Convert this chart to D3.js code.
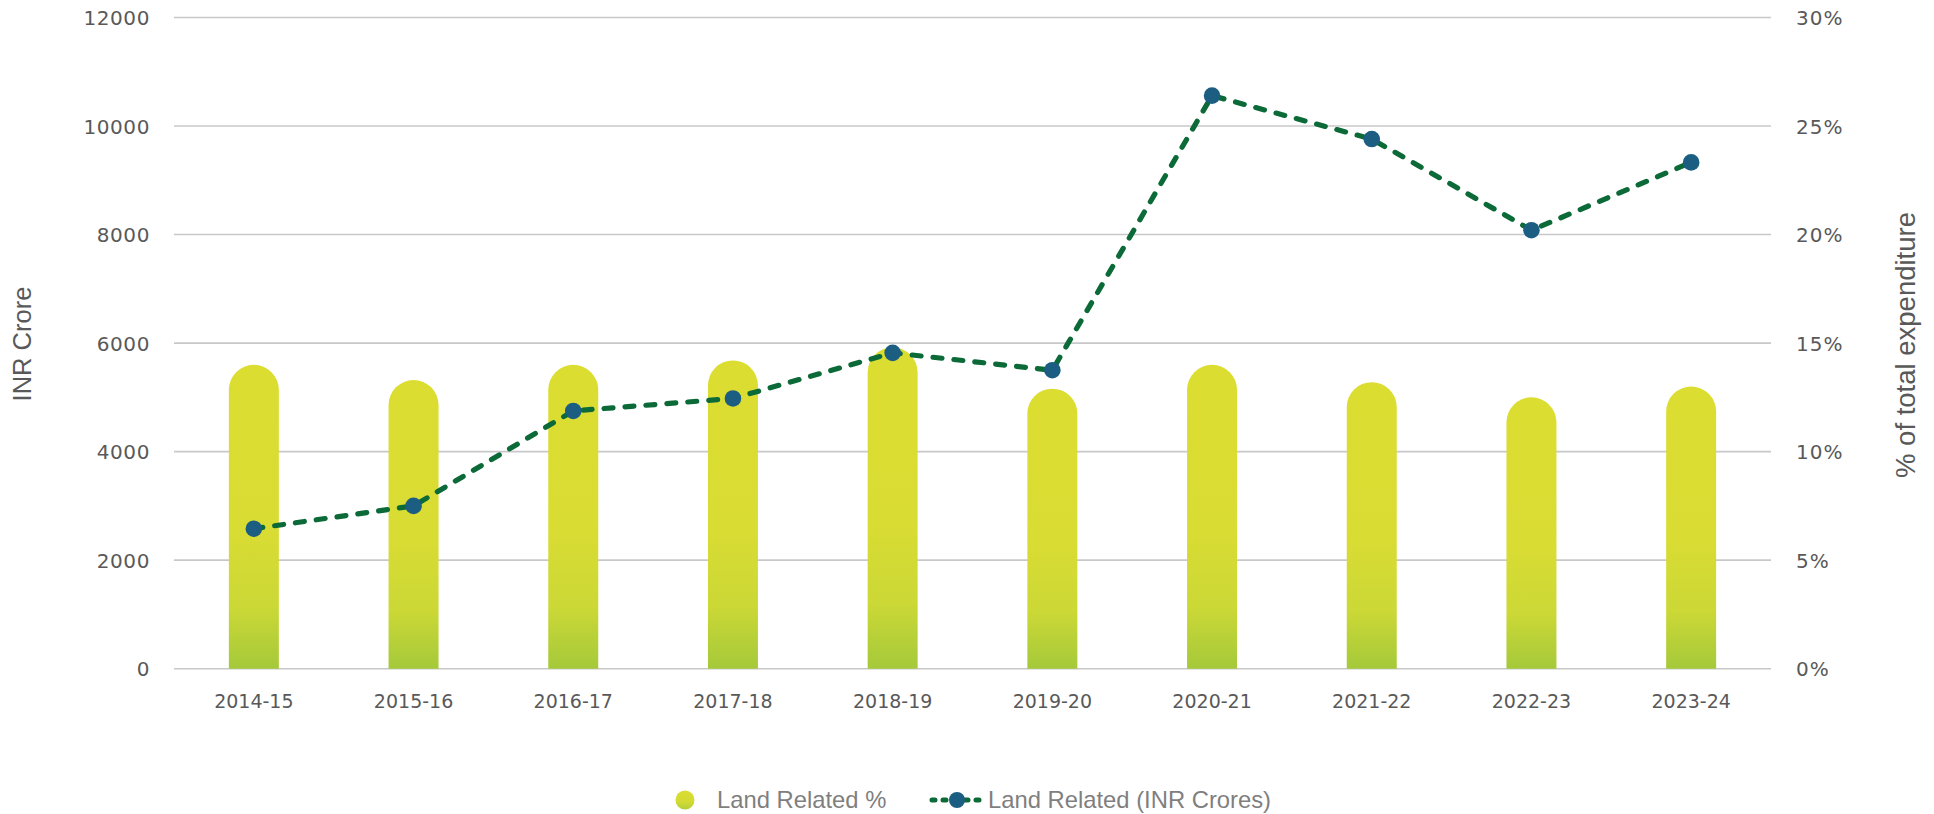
<!DOCTYPE html>
<html>
<head>
<meta charset="utf-8">
<script src="https://cdn.jsdelivr.net/npm/d3@7"></script>
<style>
  html, body { margin: 0; padding: 0; background: #fff; }
  svg { display: block; }
</style>
</head>
<body>
<svg id="chart" width="1934" height="814"></svg>
<script>
const categories = ["2014-15","2015-16","2016-17","2017-18","2018-19","2019-20","2020-21","2021-22","2022-23","2023-24"];
const landPct = [14.0, 13.3, 14.0, 14.2, 14.8, 12.9, 14.0, 13.2, 12.5, 13.0];
const landCrores = [2580, 3000, 4750, 4980, 5820, 5500, 10560, 9760, 8080, 9330];
const leftTicks = [0, 2000, 4000, 6000, 8000, 10000, 12000];
const rightTicks = [0, 5, 10, 15, 20, 25, 30];
const seriesNames = ["Land Related %", "Land Related (INR Crores)"];
const axisTitles = { left: "INR Crore", right: "% of total expenditure" };

const svg = d3.select("#chart");
const m = { left: 174, right: 1771, top: 17.5, bottom: 668.7 };
const tickFont = "'DejaVu Sans', sans-serif";
const textFont = "'Liberation Sans', Arial, sans-serif";

const x = d3.scaleBand().domain(categories).range([m.left, m.right])
  .paddingInner(0.687).paddingOuter(0.3435);
const yL = d3.scaleLinear().domain([0, 12000]).range([m.bottom, m.top]);
const yR = d3.scaleLinear().domain([0, 30]).range([m.bottom, m.top]);

const defs = svg.append("defs");
const grad = defs.append("linearGradient").attr("id", "barGrad")
  .attr("x1", 0).attr("y1", 0).attr("x2", 0).attr("y2", 1);
[["0%", "#dcdd31"], ["55%", "#d9dc33"], ["80%", "#cbd836"], ["100%", "#a5c93a"]]
  .forEach(([o, c]) => grad.append("stop").attr("offset", o).attr("stop-color", c));

// gridlines
svg.append("g").selectAll("line").data(leftTicks).join("line")
  .attr("x1", m.left).attr("x2", m.right)
  .attr("y1", d => yL(d)).attr("y2", d => yL(d))
  .attr("stroke", "#c8c8ca").attr("stroke-width", 1.6);

// left axis
const gL = svg.append("g").attr("transform", `translate(${m.left - 24},0)`)
  .call(d3.axisLeft(yL).tickValues(leftTicks).tickSize(0).tickPadding(0).tickFormat(d3.format("d")));
gL.select(".domain").remove();
gL.selectAll("text").attr("font-family", tickFont).attr("font-size", 20)
  .attr("letter-spacing", 0.6).attr("fill", "#595959").attr("dy", "0.36em");

// right axis
const gR = svg.append("g").attr("transform", `translate(${m.right + 25},0)`)
  .call(d3.axisRight(yR).tickValues(rightTicks).tickSize(0).tickPadding(0).tickFormat(d => d + "%"));
gR.select(".domain").remove();
gR.selectAll("text").attr("font-family", tickFont).attr("font-size", 20)
  .attr("letter-spacing", 1).attr("fill", "#595959").attr("dy", "0.36em");

// x axis
const gX = svg.append("g").attr("transform", `translate(0,${m.bottom + 26})`)
  .call(d3.axisBottom(x).tickSize(0).tickPadding(0));
gX.select(".domain").remove();
gX.selectAll("text").attr("font-family", tickFont).attr("font-size", 19)
  .attr("fill", "#595959").attr("dy", "0.72em");

// bars with rounded top
const bw = x.bandwidth(), r = bw / 2;
svg.append("g").selectAll("path").data(categories).join("path")
  .attr("d", (c, i) => {
    const x0 = x(c), top = yR(landPct[i]), y0 = yR(0);
    return `M${x0},${y0}L${x0},${top + r}A${r},${r} 0 0 1 ${x0 + bw},${top + r}L${x0 + bw},${y0}Z`;
  })
  .attr("fill", "url(#barGrad)");

// line
const line = d3.line().x((d, i) => x(categories[i]) + bw / 2).y(d => yL(d));
svg.append("path").datum(landCrores).attr("d", line)
  .attr("fill", "none").attr("stroke", "#0b6a37").attr("stroke-width", 5.2)
  .attr("stroke-dasharray", "9,12").attr("stroke-linecap", "round");
svg.append("g").selectAll("circle").data(landCrores).join("circle")
  .attr("cx", (d, i) => x(categories[i]) + bw / 2).attr("cy", d => yL(d))
  .attr("r", 8.3).attr("fill", "#1b5e82");

// axis titles
svg.append("text").attr("transform", "translate(31,344) rotate(-90)")
  .attr("text-anchor", "middle").attr("font-family", textFont)
  .attr("font-size", 25.5).attr("fill", "#595959").text(axisTitles.left);
svg.append("text").attr("transform", "translate(1915,345) rotate(-90)")
  .attr("text-anchor", "middle").attr("font-family", textFont)
  .attr("font-size", 27.5).attr("fill", "#595959").text(axisTitles.right);

// legend
const lg = svg.append("g");
const legGrad = defs.append("linearGradient").attr("id", "legGrad")
  .attr("x1", 0).attr("y1", 0).attr("x2", 0).attr("y2", 1);
[["0%", "#dcdd31"], ["60%", "#d2da34"], ["100%", "#b3cf38"]]
  .forEach(([o, c]) => legGrad.append("stop").attr("offset", o).attr("stop-color", c));
lg.append("circle").attr("cx", 685).attr("cy", 800).attr("r", 9.5).attr("fill", "url(#legGrad)");
lg.append("text").attr("x", 717).attr("y", 800).attr("dy", "0.35em")
  .attr("font-family", textFont).attr("font-size", 23.8)
  .attr("fill", "#7f7f7f").text(seriesNames[0]);
lg.append("line").attr("x1", 932).attr("x2", 984).attr("y1", 800).attr("y2", 800)
  .attr("stroke", "#0b6a37").attr("stroke-width", 5).attr("stroke-dasharray", "3,8").attr("stroke-linecap", "round");
lg.append("circle").attr("cx", 957).attr("cy", 800).attr("r", 8).attr("fill", "#1b5e82");
lg.append("text").attr("x", 988).attr("y", 800).attr("dy", "0.35em")
  .attr("font-family", textFont).attr("font-size", 23.8)
  .attr("fill", "#7f7f7f").text(seriesNames[1]);
</script>
</body>
</html>
